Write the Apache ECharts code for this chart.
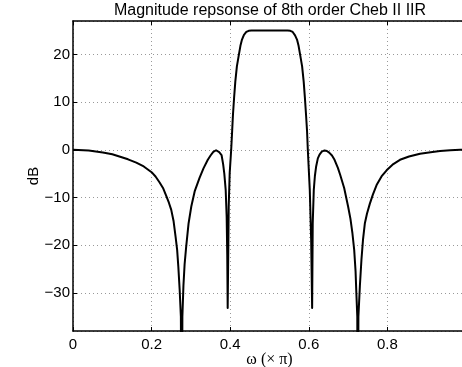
<!DOCTYPE html>
<html>
<head>
<meta charset="utf-8">
<script src="https://cdn.jsdelivr.net/npm/echarts@6/dist/echarts.min.js"></script>
<style>
html,body{margin:0;padding:0;background:#fff;}
#chart{width:462px;height:367px;}
</style>
</head>
<body>
<div id="chart"></div>
<script>
// Normalized frequency (x pi)
const omega = [
  0.000, 0.040, 0.076, 0.100, 0.118, 0.140, 0.161, 0.180, 0.200, 0.210,
  0.220, 0.229, 0.237, 0.244, 0.250, 0.256, 0.261, 0.265, 0.268, 0.2715,
  0.2745, 0.2769, 0.2783, 0.281, 0.284, 0.288, 0.294, 0.301, 0.310, 0.322,
  0.332, 0.343, 0.350, 0.357, 0.364, 0.368, 0.372, 0.378, 0.382, 0.385,
  0.3885, 0.391, 0.3925, 0.3936, 0.395, 0.3962, 0.3987, 0.4025, 0.405, 0.407,
  0.410, 0.413, 0.417, 0.422, 0.426, 0.430, 0.435, 0.441, 0.447, 0.454,
  0.500, 0.546, 0.553, 0.559, 0.565, 0.570, 0.574, 0.578, 0.583, 0.587,
  0.590, 0.593, 0.5955, 0.5975, 0.6025, 0.606, 0.6085, 0.610, 0.6127, 0.6155,
  0.6187, 0.623, 0.6273, 0.633, 0.640, 0.646, 0.652, 0.659, 0.6655, 0.674,
  0.680, 0.690, 0.700, 0.706, 0.711, 0.7155, 0.719, 0.721, 0.7234, 0.7248,
  0.7262, 0.730, 0.734, 0.738, 0.7427, 0.748, 0.755, 0.763, 0.7725, 0.785,
  0.798, 0.815, 0.832, 0.855, 0.883, 0.910, 0.934, 0.960, 0.985, 0.998
];
// Magnitude in dB
const magDb = [
  0.00, -0.15, -0.57, -0.95, -1.4, -2.0, -2.7, -3.5, -4.7, -5.6,
  -6.8, -8.0, -9.6, -11.1, -12.6, -15.0, -18.2, -21.0, -24.5, -29.5,
  -35.0, -80.0, -35.0, -28.5, -24.0, -20.3, -15.5, -11.9, -8.6, -5.9,
  -3.9, -2.1, -1.2, -0.45, -0.1, -0.15, -0.5, -1.1, -3.0, -5.0,
  -8.4, -14.0, -22.0, -33.2, -22.0, -11.9, -4.9, 0.0, 4.0, 7.3,
  11.0, 14.3, 17.5, 19.9, 21.8, 23.1, 24.1, 24.7, 24.95, 25.0,
  25.0, 25.0, 24.95, 24.7, 24.0, 23.1, 21.8, 19.9, 17.5, 14.3,
  11.0, 7.3, 4.0, 0.0, -8.4, -18.9, -33.2, -15.4, -8.4, -5.5,
  -3.5, -1.8, -1.0, -0.4, -0.14, -0.25, -0.6, -1.2, -2.1, -3.8,
  -5.3, -8.0, -11.9, -14.5, -17.5, -21.0, -25.5, -30.0, -35.0, -80.0,
  -35.0, -28.5, -23.0, -18.8, -15.4, -13.4, -11.4, -9.4, -7.4, -5.6,
  -4.3, -3.0, -2.1, -1.4, -0.84, -0.5, -0.28, -0.1, 0.0, 0.0
];
const xTicks = [0, 0.2, 0.4, 0.6, 0.8];
const yTicks = [-30, -20, -10, 0, 10, 20];

const chart = echarts.init(document.getElementById('chart'), null, {renderer: 'canvas'});
const font = '"Liberation Sans", Arial, Helvetica, sans-serif';
const gridLine = {show: true, lineStyle: {color: '#999999', width: 1, type: [1, 3]}};

chart.setOption({
  animation: false,
  backgroundColor: '#ffffff',
  title: {
    text: 'Magnitude repsonse of 8th order Cheb II IIR',
    left: 270, top: 3, textAlign: 'center', padding: 0,
    textStyle: {fontFamily: font, fontSize: 16, fontWeight: 'normal', color: '#000'}
  },
  grid: {left: 73, top: 21, width: 393, height: 310, outerBoundsMode: 'none', containLabel: false},
  xAxis: [{
    type: 'value', min: 0, max: 1, interval: 0.2, position: 'bottom',
    name: 'ω (× π)', nameLocation: 'middle', nameGap: 21, nameMoveOverlap: false,
    nameTextStyle: {fontFamily: '"Liberation Serif", "Times New Roman", serif', fontSize: 16, color: '#000'},
    axisLine: {show: true, onZero: false, lineStyle: {color: '#000', width: 1.5}},
    axisTick: {show: true, inside: true, length: 4, lineStyle: {color: '#000', width: 1}},
    axisLabel: {
      margin: 6, fontFamily: font, fontSize: 15, color: '#000', showMaxLabel: false,
      formatter: v => xTicks.some(t => Math.abs(t - v) < 1e-9) ? (v === 0 ? '0' : v.toFixed(1)) : ''
    },
    splitLine: gridLine
  }, {
    type: 'value', min: 0, max: 1, interval: 0.2, position: 'top',
    axisLine: {show: true, onZero: false, lineStyle: {color: '#000', width: 1.5}},
    axisTick: {show: true, inside: true, length: 4, lineStyle: {color: '#000', width: 1}},
    axisLabel: {show: false},
    splitLine: {show: false}
  }],
  yAxis: {
    type: 'value', min: -38, max: 27, splitNumber: 6,
    name: 'dB', nameLocation: 'middle', nameGap: 32, nameRotate: 90, nameMoveOverlap: false,
    nameTextStyle: {fontFamily: font, fontSize: 15, color: '#000'},
    axisLine: {show: true, onZero: false, lineStyle: {color: '#000', width: 1.5}},
    axisTick: {show: true, inside: true, length: 4, lineStyle: {color: '#000', width: 1}},
    axisLabel: {
      margin: 3, fontFamily: font, fontSize: 15, color: '#000',
      showMinLabel: false, showMaxLabel: false,
      formatter: v => yTicks.indexOf(v) >= 0 ? (v < 0 ? '\u2212' + Math.abs(v) : String(v)) : ''
    },
    splitLine: gridLine
  },
  series: [{
    type: 'line', xAxisIndex: 0, showSymbol: false, symbol: 'none', clip: true,
    smooth: false,
    lineStyle: {color: '#000', width: 2, join: 'round'},
    data: omega.map((w, i) => [w, magDb[i]])
  }]
});
</script>
</body>
</html>
